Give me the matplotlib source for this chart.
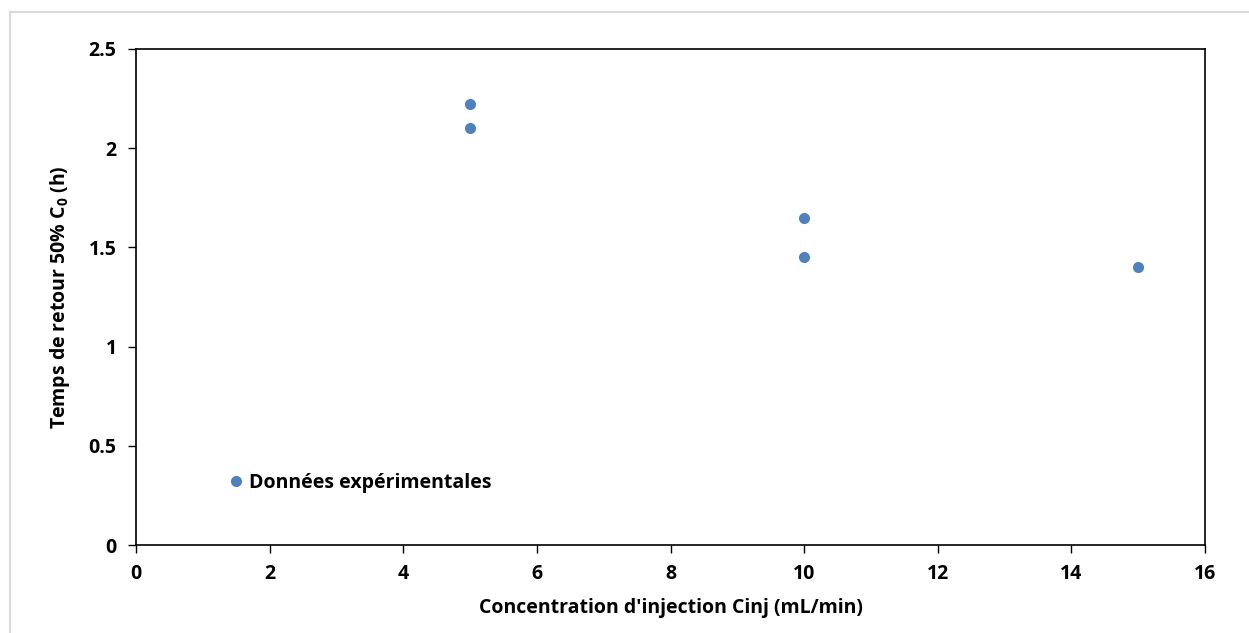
import matplotlib.pyplot as plt
from matplotlib.patches import Rectangle

FONT = 'Open Sans'
plt.rcParams['font.family'] = [FONT, 'DejaVu Sans']
plt.rcParams['font.weight'] = 'bold'
plt.rcParams['mathtext.fontset'] = 'custom'
plt.rcParams['mathtext.rm'] = FONT + ':bold'
plt.rcParams['mathtext.it'] = FONT + ':bold'
plt.rcParams['mathtext.bf'] = FONT + ':bold'

# data
debit = [5, 5, 10, 10, 15]
temps_retour = [2.225, 2.10, 1.65, 1.45, 1.40]
xticks = [0, 2, 4, 6, 8, 10, 12, 14, 16]
yticks = [0, 0.5, 1, 1.5, 2, 2.5]
ytick_labels = ['0', '0.5', '1', '1.5', '2', '2.5']

fig = plt.figure(figsize=(12.49, 6.33), dpi=100)
ax = fig.add_axes([0.1089, 0.139, 0.8559, 0.7836])

# light grey outer frame (chart area border)
fig.patches.append(Rectangle((10 / 1249, -0.5), 2, 0.5 + 1 - 12 / 633,
                             transform=fig.transFigure, fill=False,
                             edgecolor='#D9D9D9', linewidth=1.5))

ax.plot(debit, temps_retour, 'o', color='#4F81BD', markersize=7,
        label='Données expérimentales')

ax.set_xlim(0, 16)
ax.set_ylim(0, 2.5)
ax.set_xticks(xticks)
ax.set_yticks(yticks)
ax.set_yticklabels(ytick_labels)
ax.tick_params(direction='out', length=6, width=1, labelsize=14, pad=8)
for lab in ax.get_xticklabels() + ax.get_yticklabels():
    lab.set_fontweight('bold')

for s in ax.spines.values():
    s.set_linewidth(1.2)

ax.set_xlabel("Concentration d'injection Cinj (mL/min)", fontsize=14,
              fontweight='bold', labelpad=10)
ax.set_ylabel('Temps de retour 50% C$_0$ (h)', fontsize=14,
              fontweight='bold', labelpad=12)

ax.legend(loc='lower left', bbox_to_anchor=(0.066, 0.07), frameon=False,
          handletextpad=0.1, handlelength=1.2,
          prop={'family': FONT, 'weight': 'bold', 'size': 14})

plt.savefig('out.png', dpi=100)
